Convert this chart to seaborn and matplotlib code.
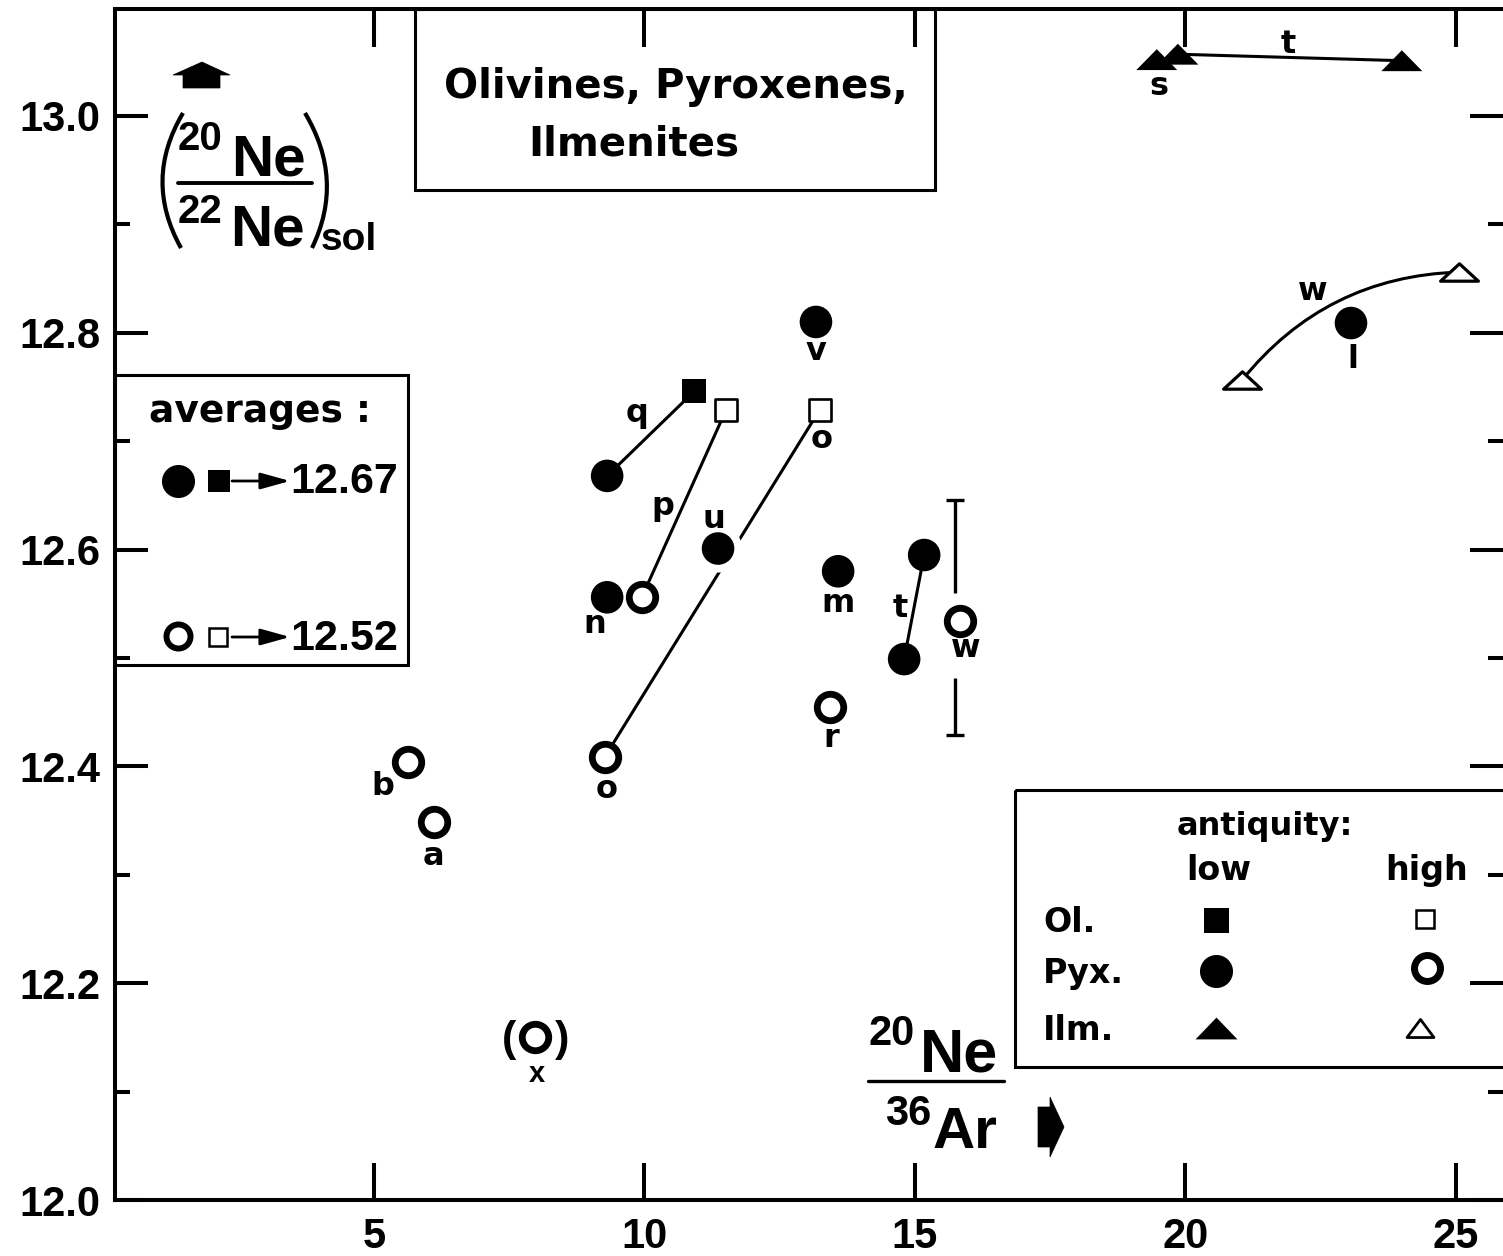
import matplotlib
matplotlib.use("Agg")
import numpy as np
import pandas as pd
import matplotlib.pyplot as plt
import matplotlib.transforms as mtransforms
from matplotlib.patches import Polygon, Rectangle, FancyArrowPatch, PathPatch
from matplotlib.path import Path
from matplotlib.lines import Line2D
import seaborn as sns

# ---------------- data ----------------
pyx_low_x = [9.31, 9.31, 11.36, 13.17, 13.58, 14.80, 15.17, 23.06]
pyx_low_y = [12.668, 12.556, 12.601, 12.810, 12.580, 12.499, 12.595, 12.809]
pyx_low_id = ["q", "n", "u", "v", "m", "t", "t", "l"]

pyx_high_x = [9.95, 9.27, 5.63, 6.11, 13.43, 15.83, 7.98]
pyx_high_y = [12.556, 12.409, 12.404, 12.349, 12.455, 12.534, 12.150]
pyx_high_id = ["p", "o", "b", "a", "r", "w", "x"]

ol_low_x = [10.92]
ol_low_y = [12.746]
ol_low_id = ["q"]

ol_high_x = [11.51, 13.24]
ol_high_y = [12.729, 12.729]
ol_high_id = ["p", "o"]

ilm_low_x = [19.47, 19.86, 24.00]
ilm_low_y = [13.052, 13.057, 13.051]
ilm_low_id = ["s", "t", "t"]

ilm_high_x = [21.04, 25.06]
ilm_high_y = [12.756, 12.856]
ilm_high_id = ["w", "w"]

w_err_low, w_err_high = 12.429, 12.646

avg_low = 12.67
avg_high = 12.52

x_ticks = [5, 10, 15, 20, 25]
y_ticks = [12.0, 12.2, 12.4, 12.6, 12.8, 13.0]
y_minor = [12.1, 12.3, 12.5, 12.7, 12.9]

linked = ["q_sil", "p_sil", "o_sil", "t_sil", "t_ilm"]

# ---------------- frame ----------------
frames = []
for mineral, antiq, xs, ys, ids in [
    ("Pyx", "low", pyx_low_x, pyx_low_y, pyx_low_id),
    ("Pyx", "high", pyx_high_x, pyx_high_y, pyx_high_id),
    ("Ol", "low", ol_low_x, ol_low_y, ol_low_id),
    ("Ol", "high", ol_high_x, ol_high_y, ol_high_id),
    ("Ilm", "low", ilm_low_x, ilm_low_y, ilm_low_id),
    ("Ilm", "high", ilm_high_x, ilm_high_y, ilm_high_id),
]:
    frames.append(pd.DataFrame({"x": xs, "y": ys, "sample": ids,
                                "mineral": mineral, "antiquity": antiq}))
df = pd.concat(frames, ignore_index=True)
df["link"] = df["sample"] + np.where(df["mineral"] == "Ilm", "_ilm", "_sil")

# ---------------- style ----------------
sns.set_style("white")
plt.rcParams["font.family"] = ["Liberation Sans", "DejaVu Sans"]
plt.rcParams["font.weight"] = "bold"
plt.rcParams["axes.edgecolor"] = "black"
plt.rcParams["text.color"] = "black"
plt.rcParams["xtick.color"] = "black"
plt.rcParams["ytick.color"] = "black"

W, H = 1503, 1256
PT = 72 / 100.0  # points per pixel
fig = plt.figure(figsize=(W / 100, H / 100), dpi=100, facecolor="white")
ax = fig.add_axes([115 / W, 1 - 1200 / H, 1 - 115 / W, (1200 - 9) / H])
T = mtransforms.Affine2D().scale(1 / W, -1 / H).translate(0, 1) + fig.transFigure


def tri(h):
    return Path([(-1, -h), (1, -h), (0, h), (-1, -h)],
                [Path.MOVETO, Path.LINETO, Path.LINETO, Path.CLOSEPOLY])


styles = {
    ("Pyx", "low"): dict(marker="o", s=550, color="black", edgecolor="none", linewidth=0),
    ("Pyx", "high"): dict(marker="o", s=363, color="white", edgecolor="black", linewidth=4.9),
    ("Ol", "low"): dict(marker="s", s=300, color="black", edgecolor="none", linewidth=0),
    ("Ol", "high"): dict(marker="s", s=262, color="white", edgecolor="black", linewidth=1.9),
    ("Ilm", "low"): dict(marker=tri(0.51), s=870, color="black", edgecolor="none", linewidth=0),
    ("Ilm", "high"): dict(marker=tri(0.46), s=740, color="white", edgecolor="black", linewidth=2.3),
}

# connecting lines
lines = df[df["link"].isin(linked)]
sns.lineplot(data=lines, x="x", y="y", units="link", estimator=None, sort=False,
             color="black", linewidth=2.2, ax=ax, legend=False, zorder=2)

# curved link for w (ilmenites)
wi = df[df["link"] == "w_ilm"]
arc = FancyArrowPatch((wi["x"].iloc[0], wi["y"].iloc[0]), (wi["x"].iloc[1], wi["y"].iloc[1]),
                      connectionstyle="arc3,rad=-0.23", arrowstyle="-", lw=2.2,
                      color="black", shrinkA=0, shrinkB=0, zorder=2)
ax.add_patch(arc)

# error bar of w (pyroxene), broken around the point and its label
wrow = df[(df["sample"] == "w") & (df["mineral"] == "Pyx")].iloc[0]
bx = wrow["x"] - 0.09
ax.vlines([bx, bx], [wrow["y"] + 0.026, w_err_low], [w_err_high, wrow["y"] - 0.052],
          color="black", lw=2.4, zorder=2)
ax.hlines([w_err_low, w_err_high], bx - 0.16, bx + 0.16, color="black", lw=2.4, zorder=2)

# white halo that breaks the o-line around u
u = df[(df["sample"] == "u")]
sns.scatterplot(data=u, x="x", y="y", marker="o", s=1197, color="white",
                edgecolor="none", linewidth=0, ax=ax, zorder=2.5, legend=False)

for key in [("Pyx", "low"), ("Ol", "low"), ("Ilm", "low"),
            ("Pyx", "high"), ("Ol", "high"), ("Ilm", "high")]:
    sub = df[(df["mineral"] == key[0]) & (df["antiquity"] == key[1])]
    sns.scatterplot(data=sub, x="x", y="y", ax=ax, zorder=3, legend=False, **styles[key])


def tag(text, x, y, dx, dy, size=23, family="DejaVu Sans", weight="bold", va="baseline"):
    ax.annotate(text, (x, y), xytext=(dx * PT, -dy * PT), textcoords="offset points",
                ha="center", va=va, fontsize=size, family=family, fontweight=weight,
                zorder=4)


tag("q", ol_low_x[0], ol_low_y[0], -57, 31)
tag("n", pyx_low_x[1], pyx_low_y[1], -12, 36)
tag("u", pyx_low_x[2], pyx_low_y[2], -4, -21)
tag("v", pyx_low_x[3], pyx_low_y[3], 0, 38)
tag("m", pyx_low_x[4], pyx_low_y[4], 0, 41)
tag("t", pyx_low_x[5], pyx_low_y[5], -4, -42)
tag("l", pyx_low_x[7], pyx_low_y[7], 2, 45)
tag("p", pyx_high_x[0], pyx_high_y[0], 21, -82)
tag("o", pyx_high_x[1], pyx_high_y[1], 2, 41)
tag("b", pyx_high_x[2], pyx_high_y[2], -25, 33)
tag("a", pyx_high_x[3], pyx_high_y[3], -1, 43)
tag("r", pyx_high_x[4], pyx_high_y[4], 1, 40)
tag("w", pyx_high_x[5], pyx_high_y[5], 6, 36)
tag("x", pyx_high_x[6], pyx_high_y[6], 2, 45, size=21, family="Liberation Sans")
tag("(", pyx_high_x[6], pyx_high_y[6], -26, 3, size=31, va="center", family="Liberation Sans")
tag(")", pyx_high_x[6], pyx_high_y[6], 27, 3, size=31, va="center", family="Liberation Sans")
tag("o", ol_high_x[1], ol_high_y[1], 2, 38)
tag("s", ilm_low_x[0], ilm_low_y[0], 2, 35)
tag("t", ilm_low_x[1], ilm_low_y[1], 110, -1)
tag("w", ilm_high_x[0], ilm_high_y[0], 71, -80)

# ---------------- axes ----------------
ax.set_xlabel("")
ax.set_ylabel("")
ax.set_xticks(x_ticks)
ax.set_xticklabels([str(t) for t in x_ticks])
ax.set_yticks(y_ticks)
ax.set_yticklabels([f"{t:.1f}" for t in y_ticks])
ax.set_yticks(y_minor, minor=True)
ax.tick_params(axis="x", which="major", direction="in", length=27, width=2.9,
               top=True, bottom=True, pad=12, labelsize=30)
ax.tick_params(axis="x", which="minor", top=False, bottom=False)
ax.tick_params(axis="y", which="major", direction="in", length=24, width=2.9,
               left=True, right=True, pad=10.5, labelsize=30)
ax.tick_params(axis="y", which="minor", direction="in", length=11, width=2.9,
               left=True, right=True)
for side in ["left", "top", "bottom"]:
    ax.spines[side].set_linewidth(2.9)
    ax.spines[side].set_color("black")
ax.spines["right"].set_visible(False)
ax.set_xlim(0.2126, 25.87)
ax.set_ylim(12.0, 13.0987)


# ---------------- decorations (reference-pixel coordinates) ----------------
def ptext(x, y, s, size, family="DejaVu Sans", ha="left", va="baseline", weight="bold"):
    fig.text(x, y, s, transform=T, fontsize=size, family=family, ha=ha, va=va,
             fontweight=weight, zorder=5)


def pmark(x, y, marker, size, fc, mew=0.0):
    fig.add_artist(Line2D([x], [y], transform=T, marker=marker, markersize=size,
                          markerfacecolor=fc, markeredgecolor="black",
                          markeredgewidth=mew, linestyle="none", zorder=5))


def prect(x0, y0, w, h):
    fig.add_artist(Rectangle((x0, y0), w, h, transform=T, fill=False,
                             edgecolor="black", lw=2.2, zorder=4))


def parrow(x0, x1, y):
    fig.add_artist(FancyArrowPatch((x0, y), (x1, y), transform=T,
                                   arrowstyle="-|>,head_length=0.9,head_width=0.25",
                                   mutation_scale=20, lw=2.0, color="black",
                                   shrinkA=0, shrinkB=0, zorder=5))


# title box
prect(415, 9, 520, 181)
ptext(676, 98, "Olivines, Pyroxenes,", 29, ha="center")
ptext(528, 155, "Ilmenites", 29)

# y-axis label: (20Ne/22Ne)sol with arrow
fig.add_artist(Polygon([(183, 88), (183, 75), (173, 75), (202, 62), (230, 75), (220, 75), (220, 88)],
                       closed=True, transform=T, facecolor="black", edgecolor="black", lw=0.5, zorder=5))
ptext(178, 150, "20", 29, family="Liberation Sans")
ptext(231, 175, "Ne", 42, family="Liberation Sans")
fig.add_artist(Line2D([178, 312], [183, 183], transform=T, lw=2.8, color="black", zorder=5))
ptext(178, 223, "22", 29, family="Liberation Sans")
ptext(230, 245, "Ne", 42, family="Liberation Sans")
ptext(321, 250, "sol", 28, family="Liberation Sans")
fig.add_artist(PathPatch(Path([(183, 113), (143, 180), (181, 248)],
                              [Path.MOVETO, Path.CURVE3, Path.CURVE3]),
                         transform=T, fill=False, lw=3, edgecolor="black", zorder=5))
fig.add_artist(PathPatch(Path([(305, 113), (345, 180), (312, 248)],
                              [Path.MOVETO, Path.CURVE3, Path.CURVE3]),
                         transform=T, fill=False, lw=3, edgecolor="black", zorder=5))

# x-axis label: 20Ne/36Ar with arrow
ptext(868, 1045, "20", 30, family="Liberation Sans")
ptext(920, 1072, "Ne", 44, family="Liberation Sans")
fig.add_artist(Line2D([868, 1004], [1081, 1081], transform=T, lw=2.4, color="black", zorder=5))
ptext(885, 1125, "36", 30, family="Liberation Sans")
ptext(933, 1148, "Ar", 42, family="Liberation Sans")
fig.add_artist(Polygon([(1038, 1107), (1050, 1107), (1050, 1097), (1064, 1127), (1050, 1157),
                        (1050, 1147), (1038, 1147)],
                       closed=True, transform=T, facecolor="black", edgecolor="black", lw=0.5, zorder=5))

# averages box
prect(115, 375, 293, 290)
ptext(260, 422, "averages :", 27, ha="center")
pmark(178, 481, "o", 23.8, "black")
pmark(219, 481, "s", 15.8, "black")
parrow(232, 290, 481)
ptext(290, 493, f"{avg_low:.2f}", 31, family="Liberation Sans")
pmark(178, 636, "o", 17.3, "white", mew=4.3)
pmark(218, 637, "s", 13.2, "white", mew=1.8)
parrow(232, 290, 637)
ptext(290, 650, f"{avg_high:.2f}", 31, family="Liberation Sans")

# antiquity legend box
prect(1015, 790, 600, 277)
ptext(1265, 835, "antiquity:", 23, ha="center")
ptext(1219, 880, "low", 24, ha="center")
ptext(1427, 880, "high", 24, ha="center")
ptext(1043, 932, "Ol.", 24)
ptext(1043, 983, "Pyx.", 24)
ptext(1043, 1040, "Ilm.", 24)
pmark(1216, 920, "s", 18, "black")
pmark(1425, 919, "s", 12.6, "white", mew=1.8)
pmark(1216, 971, "o", 23.8, "black")
pmark(1427, 968, "o", 18.7, "white", mew=5)
pmark(1216, 1028, tri(0.52), 30.2, "black")
pmark(1420, 1028, tri(0.67), 19.4, "white", mew=2)

fig.savefig("out.png", dpi=100, facecolor="white")
